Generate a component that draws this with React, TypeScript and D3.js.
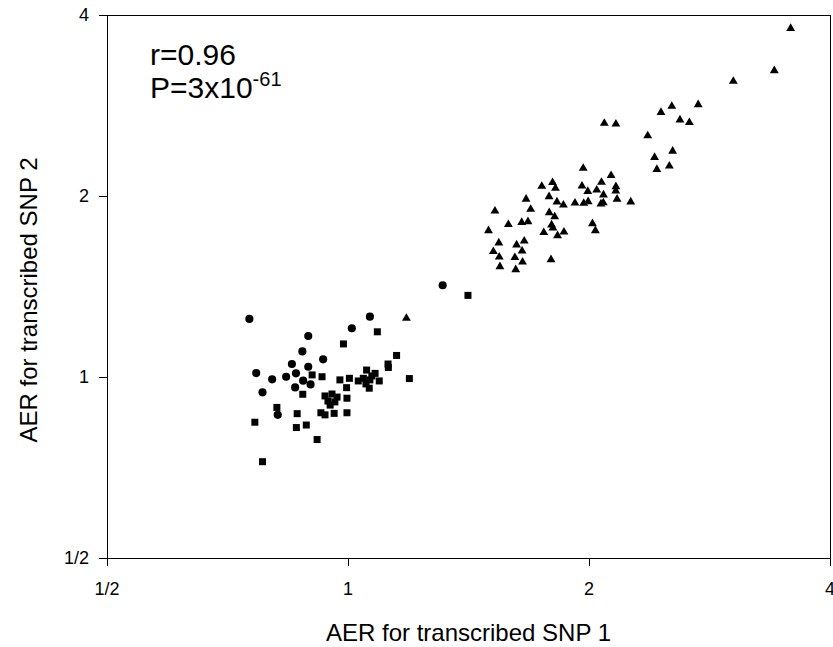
import React from "react";
import * as d3 from "d3";

const W = 833;
const H = 647;

const tickValues = [0.5, 1, 2, 4];
const tickLabels = ["1/2", "1", "2", "4"];
const xTitle = "AER for transcribed SNP 1";
const yTitle = "AER for transcribed SNP 2";
const rText = "r=0.96";
const pText = "P=3x10";
const pExp = "-61";

// Circles series
const circleX = [0.753, 1.065, 1.011, 0.892, 0.877, 0.851, 0.931, 0.892, 0.861, 0.768, 0.804, 0.837, 0.879, 0.898, 0.859, 0.782, 0.817, 1.313];
const circleY = [1.249, 1.26, 1.205, 1.17, 1.103, 1.051, 1.07, 1.04, 1.014, 1.015, 0.991, 1.001, 0.986, 0.972, 0.961, 0.943, 0.865, 1.421];

// Squares series
const squareX = [1.088, 0.987, 1.15, 1.122, 1.123, 1.193, 0.902, 0.928, 0.878, 0.977, 1.004, 0.996, 0.997, 1.03, 1.055, 1.081, 1.094, 1.063, 1.045, 1.065, 0.936, 0.955, 0.969, 0.944, 0.963, 0.95, 0.815, 0.864, 0.925, 0.936, 0.961, 0.997, 0.765, 0.862, 0.887, 0.915, 0.782, 1.412, 1.071, 1.053];
const squareY = [1.189, 1.135, 1.086, 1.051, 1.037, 0.994, 1.008, 1.001, 0.936, 0.989, 0.995, 0.96, 0.922, 0.985, 1.027, 1.014, 0.985, 0.958, 0.995, 0.989, 0.93, 0.937, 0.926, 0.912, 0.909, 0.898, 0.89, 0.869, 0.872, 0.865, 0.87, 0.872, 0.841, 0.824, 0.832, 0.787, 0.723, 1.367, 1.004, 0.974];

// Triangles series
const triX = [1.183, 1.498, 1.526, 1.586, 1.648, 1.678, 1.543, 1.624, 1.66, 1.519, 1.65, 1.545, 1.616, 1.652, 1.548, 1.62, 1.793, 1.669, 1.691, 1.746, 1.801, 1.816, 1.783, 1.824, 1.858, 1.784, 1.812, 1.796, 1.803, 1.756, 1.827, 1.861, 1.921, 1.97, 1.995, 1.96, 1.993, 2.045, 2.073, 2.131, 1.967, 2.085, 2.07, 2.084, 2.161, 2.16, 2.168, 2.255, 2.02, 2.037, 2.431, 2.415, 2.52, 2.544, 2.368, 2.09, 2.161, 2.46, 2.538, 2.738, 2.598, 2.669, 3.029, 3.408, 3.572];
const triY = [1.252, 1.751, 1.888, 1.793, 1.808, 1.813, 1.671, 1.658, 1.683, 1.617, 1.62, 1.583, 1.58, 1.553, 1.526, 1.508, 1.567, 1.976, 1.901, 2.076, 2.106, 2.06, 1.995, 1.955, 1.932, 1.877, 1.847, 1.79, 1.769, 1.739, 1.718, 1.742, 1.947, 1.945, 1.957, 2.078, 2.035, 2.046, 2.108, 2.163, 2.224, 2.008, 1.94, 1.949, 2.073, 2.039, 1.976, 1.955, 1.799, 1.751, 2.215, 2.318, 2.243, 2.374, 2.519, 2.642, 2.635, 2.754, 2.82, 2.837, 2.676, 2.65, 3.103, 3.232, 3.801];

const FONT = "'Liberation Sans', Arial, Helvetica, sans-serif";

export default function App() {
  const left = 107, right = 830, top = 15, bottom = 558;
  const x = d3.scaleLog().base(2).domain([0.5, 4]).range([left, right]);
  const y = d3.scaleLog().base(2).domain([0.5, 4]).range([bottom, top]);

  const circlePath = d3.symbol().type(d3.symbolCircle).size(52)()!;
  const squarePath = d3.symbol().type(d3.symbolSquare).size(49)()!;
  const triPath = d3.symbol().type(d3.symbolTriangle).size(34)()!;

  return (
    <svg width={W} height={H} style={{ position: "absolute", left: 0, top: 0, background: "#fff" }} fontFamily={FONT}>
      <rect x={0} y={0} width={W} height={H} fill="#fff" />
      {/* frame */}
      <g stroke="#000" strokeWidth={1} shapeRendering="crispEdges" fill="none">
        <line x1={left} x2={right} y1={top} y2={top} />
        <line x1={right} x2={right} y1={top} y2={bottom} />
        <line x1={left} x2={right} y1={bottom} y2={bottom} />
        <line x1={left} x2={left} y1={top} y2={bottom} />
        {tickValues.map((v, i) => (
          <line key={"xt" + i} x1={x(v)} x2={x(v)} y1={bottom} y2={bottom + 8} />
        ))}
        {tickValues.map((v, i) => (
          <line key={"yt" + i} x1={left - 8} x2={left} y1={y(v)} y2={y(v)} />
        ))}
      </g>
      {/* tick labels */}
      <g fontSize={18} fill="#000">
        {tickValues.map((v, i) => (
          <text key={"xl" + i} x={x(v)} y={595} textAnchor="middle">{tickLabels[i]}</text>
        ))}
        {tickValues.map((v, i) => (
          <text key={"yl" + i} x={89} y={y(v)} textAnchor="end" dominantBaseline="central">{tickLabels[i]}</text>
        ))}
      </g>
      {/* axis titles */}
      <text x={(left + right) / 2} y={641} textAnchor="middle" fontSize={24}>{xTitle}</text>
      <text transform={`translate(37,300) rotate(-90)`} textAnchor="middle" fontSize={24}>{yTitle}</text>
      {/* annotation */}
      <text x={150} y={65} fontSize={30}>{rText}</text>
      <text x={150} y={98} fontSize={30}>
        {pText}
        <tspan fontSize={20} dy={-12}>{pExp}</tspan>
      </text>
      {/* points */}
      <g fill="#000">
        {circleX.map((v, i) => (
          <path key={"c" + i} d={circlePath} transform={`translate(${x(v)},${y(circleY[i])})`} />
        ))}
        {squareX.map((v, i) => (
          <path key={"s" + i} d={squarePath} transform={`translate(${x(v)},${y(squareY[i])})`} />
        ))}
        {triX.map((v, i) => (
          <path key={"t" + i} d={triPath} transform={`translate(${x(v)},${y(triY[i])})`} />
        ))}
      </g>
    </svg>
  );
}
